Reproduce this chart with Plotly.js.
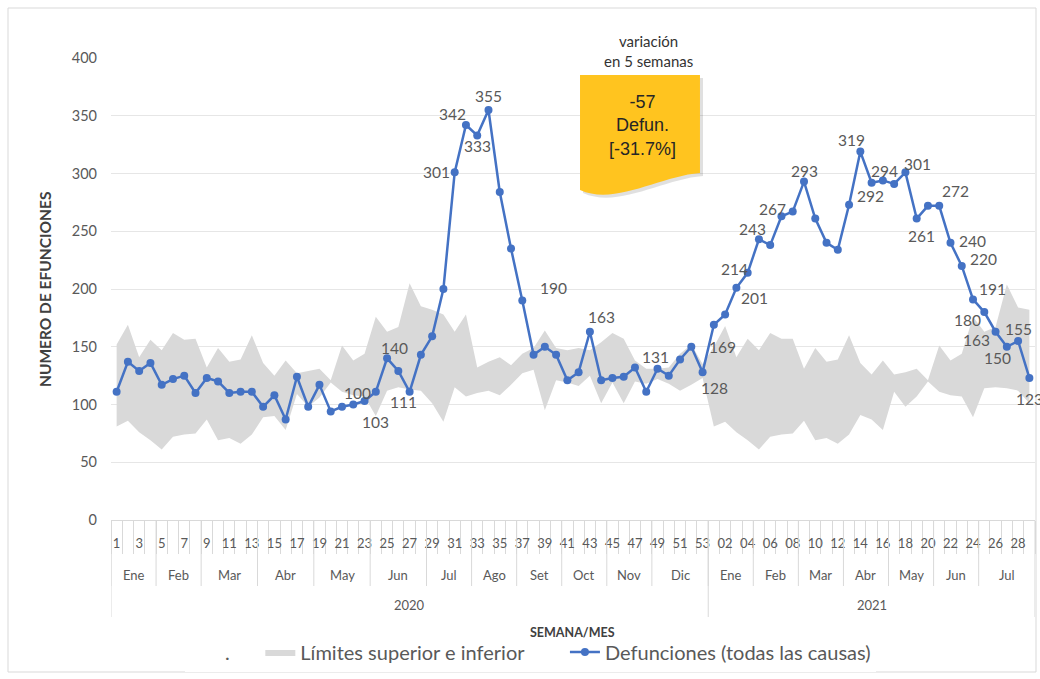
<!DOCTYPE html>
<html>
<head>
<meta charset="utf-8">
<script src="https://cdn.plot.ly/plotly-3.0.1.min.js"></script>
<style>html,body{margin:0;padding:0;background:#fff;}#chart{width:1040px;height:679px;}</style>
</head>
<body>
<div id="chart"></div>
<script>
// ---------- DATA ----------
const weeks2020 = ["1","2","3","4","5","6","7","8","9","10","11","12","13","14","15","16","17","18","19","20","21","22","23","24","25","26","27","28","29","30","31","32","33","34","35","36","37","38","39","40","41","42","43","44","45","46","47","48","49","50","51","52","53"];
const weeks2021 = ["01","02","03","04","05","06","07","08","09","10","11","12","13","14","15","16","17","18","19","20","21","22","23","24","25","26","27","28","29"];

const deaths2020 = [111,137,129,136,117,122,125,110,123,120,110,111,111,98,108,87,124,98,117,94,98,100,103,111,140,129,111,143,159,200,301,342,333,355,284,235,190,143,150,143,121,128,163,121,123,124,132,111,131,125,139,150,128];
const deaths2021 = [169,178,201,214,243,238,263,267,293,261,240,234,273,319,292,294,291,301,261,272,272,240,220,191,180,163,150,155,123];

const upper2020 = [152,169,141,156,147,162,156,157,132,149,137,139,160,136,125,138,127,129,131,121,151,138,144,176,163,167,205,185,182,178,163,178,132,137,141,134,144,149,164,149,147,149,147,154,162,157,138,131,131,132,144,152,135];
const upper2021 = [150,168,141,157,147,162,157,157,131,149,137,139,160,136,126,138,126,128,131,121,151,138,144,176,163,167,204,184,182];

const lower2020 = [81,86,76,69,61,72,74,75,87,69,71,66,74,89,90,78,109,98,106,119,111,108,107,90,112,115,113,112,101,85,115,107,110,112,108,117,127,130,95,121,119,116,125,101,119,101,120,118,122,118,112,117,123];
const lower2021 = [81,85,76,69,61,72,74,75,86,69,71,66,74,91,87,78,111,98,107,120,111,108,107,89,114,115,114,112,101];

const months2020 = ["Ene","Feb","Mar","Abr","May","Jun","Jul","Ago","Set","Oct","Nov","Dic"];
const monthStartWeek2020 = [1,5,9,14,19,24,29,33,37,41,45,49];
const months2021 = ["Ene","Feb","Mar","Abr","May","Jun","Jul"];
const monthStartWeek2021 = [1,5,9,13,17,21,25];
const years = ["2020","2021"];

// labelled points: [year, week, dx, dy]
const labelled = [
  [2020,22,4,12],[2020,23,11,-21],[2020,25,7,10],[2020,27,-6,-10],[2020,31,-18,0],
  [2020,32,-13,11],[2020,33,0,-11],[2020,34,0,14],[2020,37,31,13],[2020,43,12,15],
  [2020,49,-2,12],[2020,53,12,-16],
  [2021,1,9,-22],[2021,3,18,-10],[2021,4,-13,4],[2021,5,-6,10],[2021,8,-20,3],
  [2021,9,0,11],[2021,14,-9,12],[2021,15,-1,-13],[2021,16,2,9],[2021,18,12,8],
  [2021,19,5,-17],[2021,21,16,15],[2021,22,22,2],[2021,23,22,7],[2021,24,19,10],
  [2021,25,-17,-8],[2021,26,-19,-8],[2021,27,-9,-11],[2021,28,0,12],[2021,29,0,-21]
];

// ---------- BUILD ----------
const n20 = weeks2020.length, n21 = weeks2021.length, N = n20 + n21;
const xs = Array.from({length:N}, (_, i) => i);
const deaths = deaths2020.concat(deaths2021);
const upper = upper2020.concat(upper2021);
const lower = lower2020.concat(lower2021);
const weekLabels = weeks2020.concat(weeks2021);
const tickvals = [], ticktext = [];
for (let i = 0; i < N; i += 2) { tickvals.push(i); ticktext.push(weekLabels[i]); }

const FONT = "Lato, 'Open Sans', sans-serif";
const GREY = "#595959";
const LINE = "#d9d9d9";
const NB = n => '\u00a0'.repeat(n);

const traces = [
  {x: xs, y: lower, type:'scatter', mode:'lines', name:'.' + NB(5), line:{width:0, color:'rgba(0,0,0,0)'}, hoverinfo:'skip'},
  {x: xs, y: upper, type:'scatter', mode:'lines', name:'Límites superior e inferior' + NB(7), fill:'tonexty', fillcolor:'#d9d9d9', line:{width:0, color:'#d9d9d9'}, hoverinfo:'skip'},
  {x: xs, y: deaths, type:'scatter', mode:'lines+markers', name:'Defunciones (todas las causas)', line:{color:'#4472C4', width:2.5}, marker:{color:'#4472C4', size:8}}
];

const px2x = p => (p - 111) / 924;
const px2y = p => (520 - p) / 462;

const shapes = [];
const annotations = [];
const ann = (o) => annotations.push(Object.assign({showarrow:false, xanchor:'center', yanchor:'middle'}, o));

// month separators and labels
function addMonths(names, starts, offset, lastIdx) {
  for (let k = 0; k < names.length; k++) {
    const s = offset + starts[k] - 1;
    const e = (k < names.length - 1) ? offset + starts[k+1] - 2 : lastIdx;
    shapes.push({type:'line', xref:'x', yref:'paper', x0:s-0.5, x1:s-0.5, y0:0, y1:px2y(586), line:{color:LINE, width:1}});
    ann({xref:'x', yref:'paper', x:(s+e)/2, y:px2y(575), text:names[k], font:{family:FONT, size:13, color:GREY}});
  }
}
addMonths(months2020, monthStartWeek2020, 0, n20 - 1);
addMonths(months2021, monthStartWeek2021, n20, N - 1);
// year separators and labels
[-0.5, n20 - 0.5, N - 0.5].forEach(b => shapes.push({type:'line', xref:'x', yref:'paper', x0:b, x1:b, y0:0, y1:px2y(617), line:{color:LINE, width:1}}));
ann({xref:'x', yref:'paper', x:(n20-1)/2, y:px2y(605), text:years[0], font:{family:FONT, size:13, color:GREY}});
ann({xref:'x', yref:'paper', x:n20+(n21-1)/2, y:px2y(605), text:years[1], font:{family:FONT, size:13, color:GREY}});

// data labels
labelled.forEach(([yr, wk, dx, dy]) => {
  const idx = (yr === 2020 ? wk - 1 : n20 + wk - 1);
  ann({xref:'x', yref:'y', x: idx, y: deaths[idx], text: String(deaths[idx]),
    xshift: dx, yshift: dy, font:{family:FONT, size:15.5, color:GREY}});
});

// axis titles
ann({xref:'paper', yref:'paper', x:px2x(572), y:px2y(632), text:'<b>SEMANA/MES</b>', font:{family:FONT, size:12.5, color:'#404040'}});
ann({xref:'paper', yref:'paper', x:px2x(45), y:px2y(290), text:'<b>NUMERO DE EFUNCIONES</b>', textangle:-90, font:{family:FONT, size:15.5, color:'#404040'}});

// callout
const P = (x,y) => px2x(x).toFixed(4) + ',' + px2y(y).toFixed(4);
const calloutPath = (o) => 'M ' + P(580+o,75+o) + ' L ' + P(700+o,75+o) + ' L ' + P(700+o,173+o) +
  ' C ' + P(660+o,176+o) + ' ' + P(615+o,206+o) + ' ' + P(580+o,190+o) + ' Z';
shapes.push({type:'path', xref:'paper', yref:'paper', path: calloutPath(3), fillcolor:'rgba(0,0,0,0.12)', line:{width:0}});
shapes.push({type:'path', xref:'paper', yref:'paper', path: calloutPath(0), fillcolor:'#FFC41F', line:{width:0}});
ann({xref:'paper', yref:'paper', x:px2x(642), y:px2y(125), text:'-57<br>Defun.<br>[-31.7%]',
  font:{family:"'Liberation Sans', Arial, sans-serif", size:18, color:'#262626'}});
ann({xref:'paper', yref:'paper', x:px2x(648), y:px2y(51), text:'variación<br>en 5 semanas',
  font:{family:FONT, size:15, color:'#333333'}});

// outer frame
shapes.push({type:'rect', xref:'paper', yref:'paper', x0:px2x(8), x1:px2x(1036), y0:px2y(672), y1:px2y(8), line:{color:LINE, width:1}, layer:'below'});

const layout = {
  width:1040, height:679,
  margin:{l:111, r:5, t:58, b:159},
  paper_bgcolor:'#ffffff', plot_bgcolor:'#ffffff',
  font:{family:FONT, color:GREY},
  showlegend:true,
  legend:{orientation:'h', x:px2x(185), xanchor:'left', y:px2y(652), yanchor:'middle', font:{family:FONT, size:20, color:GREY}, traceorder:'normal', itemwidth:30},
  xaxis:{range:[-0.5, N-0.5], tickvals:tickvals, ticktext:ticktext, tickangle:0, ticks:'', showgrid:false, zeroline:false,
    showline:true, linecolor:LINE, linewidth:1, tickfont:{family:FONT, size:13, color:GREY}, ticklabelstandoff:11,
    minor:{ticks:'outside', ticklen:33, tickcolor:LINE, tickwidth:1, tick0:-0.5, dtick:1, showgrid:false}},
  yaxis:{range:[0,400], dtick:50, showgrid:true, gridcolor:'#e6e6e6', zeroline:false, showline:false, ticks:'',
    tickfont:{family:FONT, size:14.5, color:GREY}, ticklabelstandoff:13},
  shapes:shapes, annotations:annotations
};

Plotly.newPlot('chart', traces, layout, {displayModeBar:false, staticPlot:true});
</script>
</body>
</html>
